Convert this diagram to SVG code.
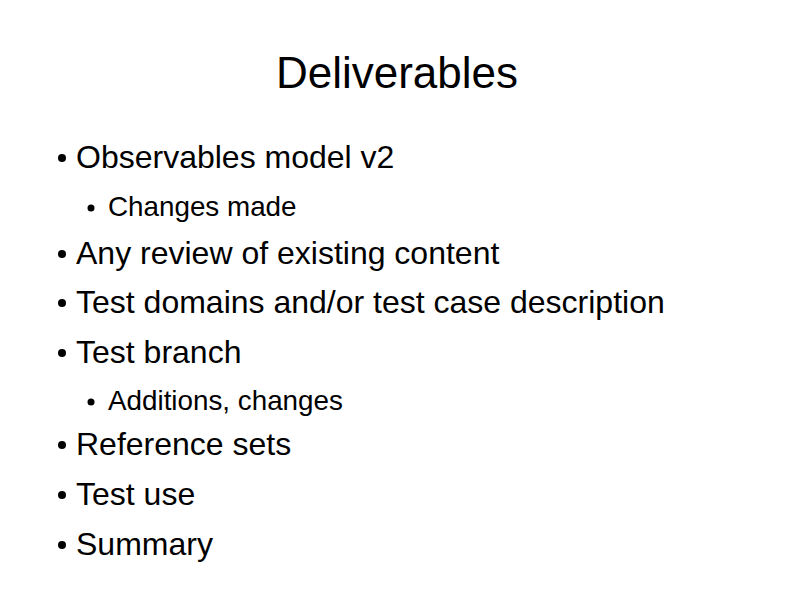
<svg xmlns="http://www.w3.org/2000/svg" width="794" height="595" viewBox="0 0 794 595">
<style>
text{font-family:"Liberation Sans",Arial,sans-serif;fill:#000}
.t{font-size:44px}
.l1{font-size:32px}
.l2{font-size:27.8px}
</style>
<rect width="794" height="595" fill="#fff"/>
<g id="title"><text class="t" x="397" y="88" text-anchor="middle">Deliverables</text></g>
<g id="b1"><circle cx="62" cy="158" r="4"/><text class="l1" x="76" y="168">Observables model v2</text></g>
<g id="b1a"><circle cx="91" cy="208" r="3.5"/><text class="l2" x="108" y="216">Changes made</text></g>
<g id="b2"><circle cx="62" cy="254" r="4"/><text class="l1" x="76" y="264">Any review of existing content</text></g>
<g id="b3"><circle cx="62" cy="303" r="4"/><text class="l1" x="76" y="313">Test domains and/or test case description</text></g>
<g id="b4"><circle cx="62" cy="353" r="4"/><text class="l1" x="76" y="363">Test branch</text></g>
<g id="b4a"><circle cx="91" cy="402" r="3.5"/><text class="l2" x="108" y="410">Additions, changes</text></g>
<g id="b5"><circle cx="62" cy="445" r="4"/><text class="l1" x="76" y="455">Reference sets</text></g>
<g id="b6"><circle cx="62" cy="495" r="4"/><text class="l1" x="76" y="505">Test use</text></g>
<g id="b7"><circle cx="62" cy="545" r="4"/><text class="l1" x="76" y="555">Summary</text></g>
<g id="connectors"/>
</svg>
